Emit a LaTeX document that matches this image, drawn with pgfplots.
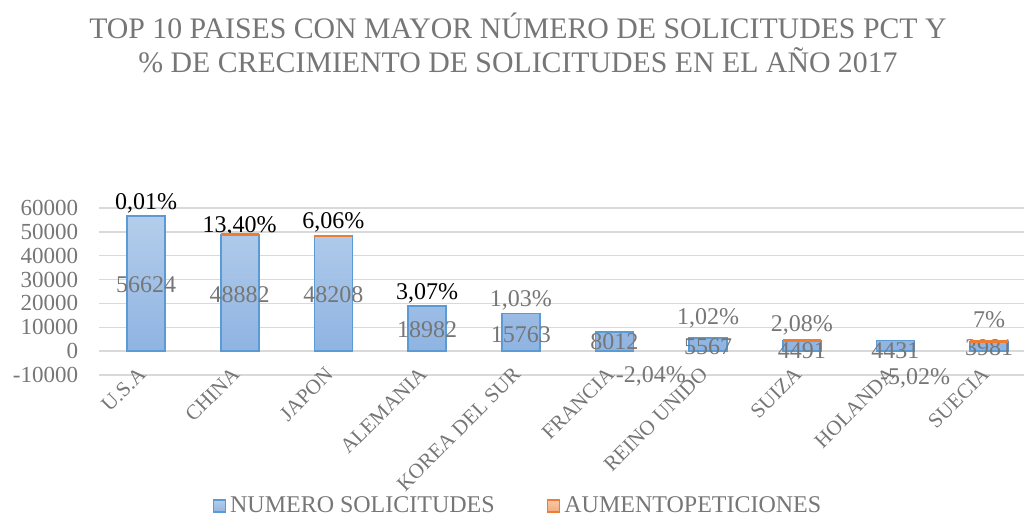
\documentclass[border=0pt]{standalone}
\usepackage{fontspec}
\setmainfont{Liberation Serif}
\usepackage{pgfplots}
\pgfplotsset{compat=1.18}
\definecolor{txtgray}{RGB}{118,118,118}
\definecolor{gridgray}{RGB}{217,217,217}
\definecolor{bluebord}{RGB}{91,155,213}
\definecolor{bluetop}{RGB}{180,205,235}
\definecolor{bluebot}{RGB}{143,180,226}
\definecolor{orbord}{RGB}{237,125,49}
\definecolor{ortop}{RGB}{250,200,170}
\definecolor{orbot}{RGB}{244,170,120}
\begin{document}
\begin{tikzpicture}
\useasboundingbox (0,0) rectangle (512pt,258.5pt);
\node[text=txtgray, align=center, font=\fontsize{14.9}{17}\selectfont] at (259pt,237pt)
  {TOP 10 PAISES CON MAYOR NÚMERO DE SOLICITUDES PCT Y\\\% DE CRECIMIENTO DE SOLICITUDES EN EL AÑO 2017};
\begin{axis}[
  at={(49.6pt,71pt)}, anchor=south west,
  scale only axis, width=468.4pt, height=83.5pt,
  bar width=19pt,
  xmin=-0.5, xmax=9.5, ymin=-10000, ymax=60000,
  ytick={-10000,0,10000,20000,30000,40000,50000,60000},
  ymajorgrids, major grid style={gridgray, line width=0.7pt},
  axis line style={draw=none},
  tick style={draw=none},
  xtick={0,...,9},
  xticklabels={U.S.A,CHINA,JAPON,ALEMANIA,KOREA DEL SUR,FRANCIA,REINO UNIDO,SUIZA,HOLANDA,SUECIA},
  x tick label style={xshift=-4.5pt, yshift=9.5pt, rotate=45, anchor=north east, font=\fontsize{10.5}{11}\selectfont, text=txtgray},
  y tick label style={xshift=-7pt, font=\fontsize{11.5}{12}\selectfont, text=txtgray},
  /pgf/number format/assume math mode=true,
  /pgf/number format/1000 sep={},
  scaled y ticks=false,
  clip=false,
  legend style={at={(0.448,-0.785)}, anchor=center, legend columns=2, draw=none, fill=none,
    font=\fontsize{12}{12}\selectfont, text=txtgray,
    /tikz/every even column/.append style={column sep=24pt}},
]
\addplot[ybar, bar shift=0pt, draw=bluebord, line width=0.9pt, top color=bluetop, bottom color=bluebot,
  legend image code/.code={\draw[draw=bluebord, line width=0.8pt, top color=bluetop, bottom color=bluebot] (0pt,-3pt) rectangle (6pt,3pt);}]
  coordinates {(0,56624) (1,48882) (2,48208) (3,18982) (4,15763) (5,8012) (6,5567) (7,4491) (8,4431) (9,3981)};
\addlegendentry{NUMERO SOLICITUDES}
% orange increments, shown as thin caps on top of the bars (bar top + increment)
\addplot[only marks, mark=-, mark size=9.5pt, mark options={draw=orbord, line width=1.2pt},
  legend image code/.code={\draw[draw=orbord, line width=0.8pt, top color=ortop, bottom color=orbot] (0pt,-3pt) rectangle (6pt,3pt);}]
  coordinates {(1,48895.4) (2,48214.06) (7,4493.08) (9,3988)};
\addlegendentry{AUMENTOPETICIONES}
% value labels
\begin{scope}[every node/.style={font=\fontsize{12}{12}\selectfont, text=txtgray}]
\node at (axis cs:0,27700) {56624};
\node at (axis cs:1,23500) {48882};
\node at (axis cs:2,23500) {48208};
\node at (axis cs:3,8800) {18982};
\node at (axis cs:4,6700) {15763};
\node at (axis cs:5,3800) {8012};
\node at (axis cs:6,1700) {5567};
\node at (axis cs:7,400) {4491};
\node at (axis cs:8,400) {4431};
\node at (axis cs:9,1500) {3981};
\end{scope}
% percentage labels
\begin{scope}[every node/.style={font=\fontsize{12}{12}\selectfont}]
\node[text=black] at (axis cs:0,62000) {0,01\%};
\node[text=black] at (axis cs:1,52400) {13,40\%};
\node[text=black] at (axis cs:2,54100) {6,06\%};
\node[text=black] at (axis cs:3,24300) {3,07\%};
\node[text=txtgray] at (axis cs:4,21400) {1,03\%};
\node[text=txtgray] at (axis cs:5.39,-10500) {-2,04\%};
\node[text=txtgray] at (axis cs:6,13800) {1,02\%};
\node[text=txtgray] at (axis cs:7,10900) {2,08\%};
\node[text=txtgray] at (axis cs:8.21,-11300) {-5,02\%};
\node[text=txtgray] at (axis cs:9,13000) {7\%};
\end{scope}
\end{axis}
\end{tikzpicture}
\end{document}
